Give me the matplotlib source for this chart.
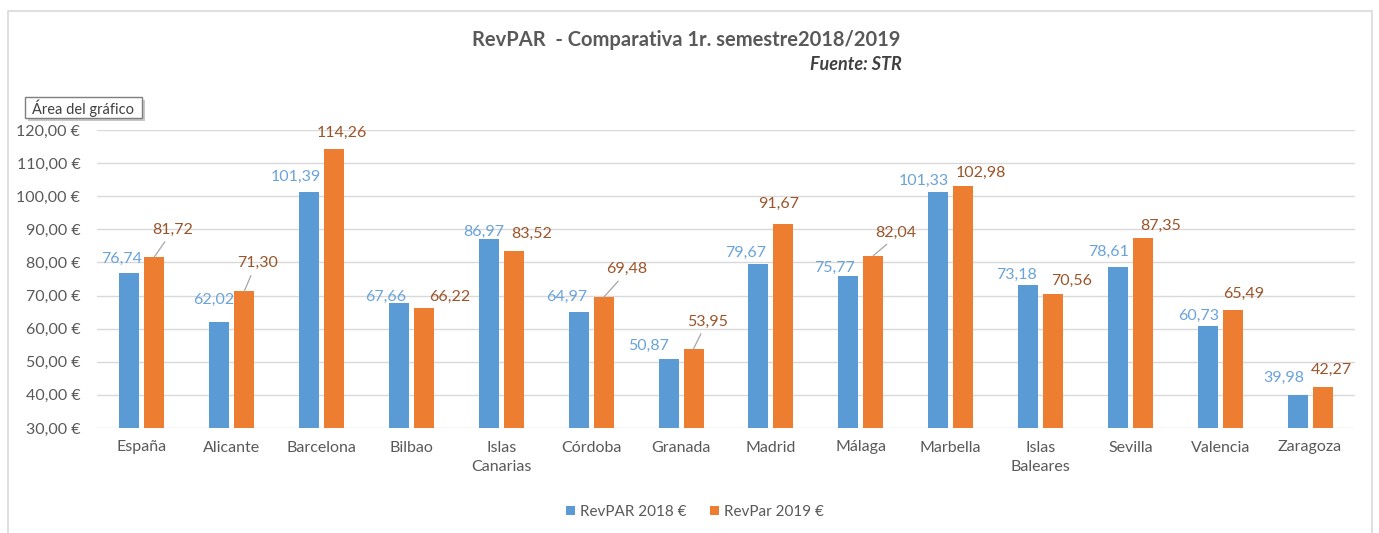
import matplotlib.pyplot as plt
import numpy as np
from matplotlib.patches import Rectangle

plt.rcParams['font.family'] = ['Lato', 'DejaVu Sans']

# --- data ---
ciudades = ['España', 'Alicante', 'Barcelona', 'Bilbao', 'Islas\nCanarias', 'Córdoba',
            'Granada', 'Madrid', 'Málaga', 'Marbella', 'Islas\nBaleares', 'Sevilla',
            'Valencia', 'Zaragoza']
revpar_2018 = [76.74, 62.02, 101.39, 67.66, 86.97, 64.97, 50.87, 79.67, 75.77, 101.33,
               73.18, 78.61, 60.73, 39.98]
revpar_2019 = [81.72, 71.30, 114.26, 66.22, 83.52, 69.48, 53.95, 91.67, 82.04, 102.98,
               70.56, 87.35, 65.49, 42.27]
y_ticks = [30, 40, 50, 60, 70, 80, 90, 100, 110, 120]

# label offsets in pixels (dx, dy) relative to bar top, as placed by hand in the original
off_2018 = [(-8, 14), (-6, 22), (-13, 15), (-13, 6), (-5, 7), (-12, 15), (-20, 13),
            (-13, 11), (-14, 9), (-14, 11), (-12, 10), (-9, 15), (-9, 10), (-14, 17)]
off_2019 = [(18, 27), (13, 28), (8, 16), (26, 11), (18, 17), (23, 28), (14, 27),
            (-5, 20), (23, 23), (18, 13), (19, 13), (18, 12), (11, 17), (9, 17)]
leader_2019 = [True, True, False, False, False, True, True, False, True, False,
               False, False, False, False]

azul = '#5B9BD5'
naranja = '#ED7D31'
txt_azul = '#6AA3DA'
txt_naranja = '#9A552A'
gris = '#595959'

fig = plt.figure(figsize=(13.79, 5.33), dpi=100)
ax = fig.add_axes([97/1379, 1-428/533, (1355-97)/1379, (428-130)/533])

# chart border
fig.patches.append(Rectangle((8/1379, -0.05), (1372-8)/1379, 1-11/533+0.05,
                             transform=fig.transFigure, fill=False,
                             edgecolor='#D9D9D9', lw=1.2, zorder=0))

x = np.arange(len(ciudades))
w = 0.222
d = 0.139
b1 = ax.bar(x - d, revpar_2018, w, color=azul, label='RevPAR 2018 €', zorder=3)
b2 = ax.bar(x + d, revpar_2019, w, color=naranja, label='RevPar 2019 €', zorder=3)

def fmt(v):
    return f'{v:.2f}'.replace('.', ',')

for i in range(len(ciudades)):
    ax.annotate(fmt(revpar_2018[i]), (x[i] - d, revpar_2018[i]), xytext=off_2018[i],
                textcoords='offset pixels', ha='center', va='center',
                fontsize=11.5, color=txt_azul, zorder=4)
    arrow = None
    if leader_2019[i]:
        arrow = dict(arrowstyle='-', color='#A6A6A6', lw=0.9, shrinkA=2, shrinkB=0,
                     relpos=(0.4, 0.0))
    ax.annotate(fmt(revpar_2019[i]), (x[i] + d, revpar_2019[i]), xytext=off_2019[i],
                textcoords='offset pixels', ha='center', va='center',
                fontsize=11.5, color=txt_naranja, arrowprops=arrow, zorder=4)

ax.set_ylim(30, 120)
ax.set_xlim(-0.5, len(ciudades) - 0.5)
ax.set_yticks(y_ticks)
ax.set_yticklabels([fmt(v) + ' €' for v in y_ticks])
ax.set_xticks(x)
ax.set_xticklabels(ciudades, linespacing=1.5)
ax.tick_params(axis='both', length=0, labelsize=11.5, labelcolor=gris)
ax.tick_params(axis='y', pad=12)
ax.tick_params(axis='x', pad=9)
ax.grid(axis='y', color='#D9D9D9', lw=1.0, zorder=0)
for s in ax.spines.values():
    s.set_visible(False)

fig.text(686/1379, 1-40/533, 'RevPAR  - Comparativa 1r. semestre2018/2019',
         ha='center', va='center', fontsize=14.5, fontweight='bold', color=gris)
fig.text(902/1379, 1-65/533, 'Fuente: STR', ha='right', va='center', fontsize=13,
         fontweight='bold', style='italic', color='#404040')

# tooltip "Área del gráfico"
fig.patches.append(Rectangle((28/1379, 1-121/533), 117/1379, 21/533,
                             transform=fig.transFigure, facecolor='#C8C8C8',
                             edgecolor='none', zorder=1))
fig.patches.append(Rectangle((25/1379, 1-118/533), 117/1379, 21/533,
                             transform=fig.transFigure, facecolor='white',
                             edgecolor='#7F7F7F', lw=1, zorder=2))
fig.text(83/1379, 1-108/533, 'Área del gráfico', ha='center', va='center',
         fontsize=10.5, color='#404040', zorder=3)

fig.legend(handles=[b1, b2], loc='center', bbox_to_anchor=(695/1379, 1-512/533),
           ncol=2, frameon=False, fontsize=11, handlelength=0.6, handleheight=0.6,
           handletextpad=0.35, columnspacing=1.5, labelcolor=gris)

fig.savefig('out.png', dpi=100)
